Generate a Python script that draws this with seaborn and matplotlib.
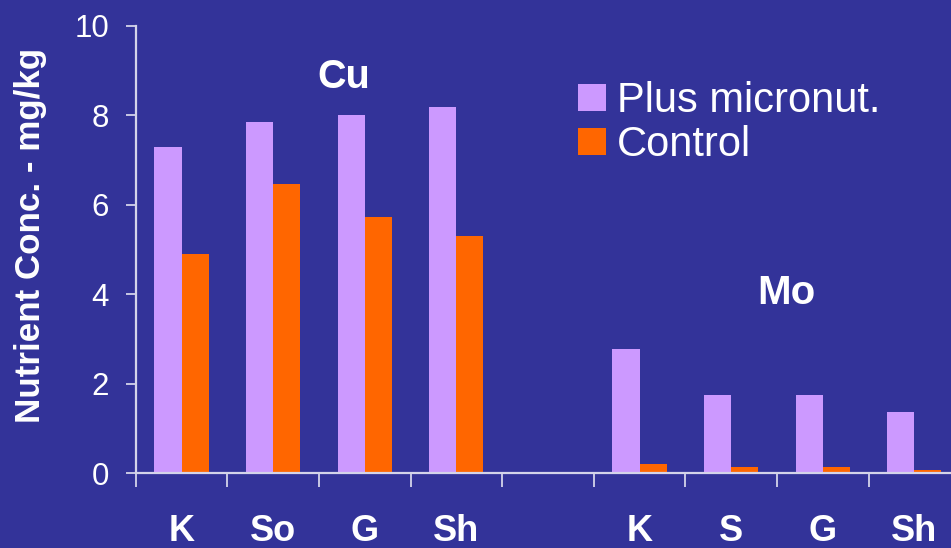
import matplotlib
matplotlib.use("Agg")
import matplotlib.pyplot as plt
import seaborn as sns
import pandas as pd
import numpy as np

# Crop / nutrient slots (one blank slot separates the Cu and Mo groups)
slots = ["Cu-K", "Cu-So", "Cu-G", "Cu-Sh", "gap", "Mo-K", "Mo-S", "Mo-G", "Mo-Sh"]
tick_labels = ["K", "So", "G", "Sh", "", "K", "S", "G", "Sh"]
data_slots = ["Cu-K", "Cu-So", "Cu-G", "Cu-Sh", "Mo-K", "Mo-S", "Mo-G", "Mo-Sh"]
plus_micronut = [7.3, 7.86, 8.0, 8.2, 2.78, 1.74, 1.74, 1.38]
control = [4.9, 6.46, 5.74, 5.31, 0.2, 0.13, 0.13, 0.07]
series_names = ["Plus micronut.", "Control"]

df = pd.DataFrame({
    "slot": data_slots * 2,
    "value": plus_micronut + control,
    "treatment": [series_names[0]] * len(data_slots) + [series_names[1]] * len(data_slots),
})

bg = "#333399"
axis_col = "#D4D4EA"
palette = {series_names[0]: "#CC99FF", series_names[1]: "#FF6600"}

sns.set_theme(style="white")
plt.rcParams["font.family"] = ["Liberation Sans", "DejaVu Sans"]

fig = plt.figure(figsize=(9.51, 5.48), dpi=100, facecolor=bg)
ax = fig.add_axes([135.7 / 951, 74.7 / 548, 824.4 / 951, 447.3 / 548])
ax.set_facecolor(bg)

sns.barplot(data=df, x="slot", y="value", hue="treatment", order=slots,
            hue_order=series_names, palette=palette, width=0.59,
            saturation=1, errorbar=None, ax=ax, linewidth=0)

ax.set_xlim(-0.5, len(slots) - 0.5)
ax.set_ylim(0, 10)
ax.set_yticks([0, 2, 4, 6, 8, 10])
ax.set_xticks(range(len(slots)))
ax.set_xticklabels(tick_labels, fontsize=26, fontweight="bold", color="white")
ax.set_xticks(np.arange(-0.5, len(slots), 1.0), minor=True)
ax.tick_params(axis="x", which="major", bottom=True, length=0, pad=29)
ax.tick_params(axis="x", which="minor", bottom=True, length=10, width=1.3,
               color=axis_col, direction="out")
ax.tick_params(axis="y", which="major", left=True, length=7.2, width=1.3, color=axis_col,
               direction="out", labelsize=22.5, labelcolor="white", pad=12)
ax.set_xlabel("")
ax.set_ylabel("Nutrient Conc. - mg/kg", fontsize=25.2, fontweight="bold", color="white")
ax.yaxis.set_label_coords(-0.1076, 0.532)

for side in ["top", "right"]:
    ax.spines[side].set_visible(False)
for side in ["left", "bottom"]:
    ax.spines[side].set_color(axis_col)
    ax.spines[side].set_linewidth(1.6)

# Nutrient group labels
ax.text(1.77, 8.86, "Cu", fontsize=28.5, fontweight="bold", color="white",
        ha="center", va="center")
ax.text(6.6, 4.02, "Mo", fontsize=29, fontweight="bold", color="white",
        ha="center", va="center")

handles, labels = ax.get_legend_handles_labels()
leg = ax.legend(handles, labels, loc="upper left",
                bbox_to_anchor=(578 / 951, 1 - 81 / 548), bbox_transform=fig.transFigure,
                frameon=False, fontsize=30, borderpad=0, borderaxespad=0,
                handlelength=0.67, handleheight=0.63, handletextpad=0.27,
                labelspacing=0.1)
for t in leg.get_texts():
    t.set_color("white")

fig.savefig("out.png", dpi=100, facecolor=bg)
